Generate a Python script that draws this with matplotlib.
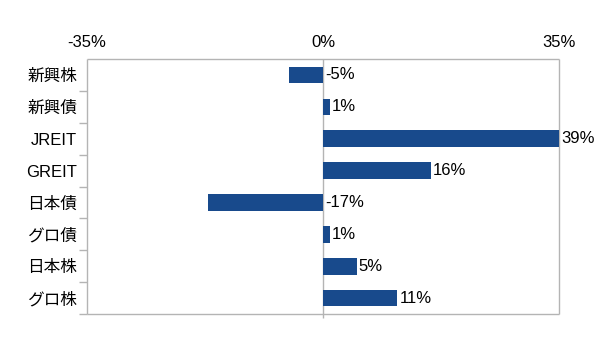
import numpy as np
import matplotlib
matplotlib.use("Agg")
import matplotlib.pyplot as plt

plt.rcParams['font.family'] = ['Liberation Sans', 'Noto Sans CJK JP', 'DejaVu Sans']

categories = ["新興株", "新興債", "JREIT", "GREIT", "日本債", "グロ債", "日本株", "グロ株"]
values = [-5, 1, 39, 16, -17, 1, 5, 11]
x_ticks = [-35, 0, 35]
x_labels = ["-35%", "0%", "35%"]

bar_color = "#184a8c"
line_color = "#b4b4b4"

fig = plt.figure(figsize=(6, 3.37), dpi=100)
ax = fig.add_axes([0.145, 0.068, 0.787, 0.757])

y = np.arange(len(categories))
ax.barh(y, values, height=0.52, color=bar_color, zorder=3)

ax.set_xlim(x_ticks[0], x_ticks[-1])
ax.set_ylim(len(categories) - 0.5, -0.5)

# value labels sit at the bar end, or at the zero line for negatives
for yi, v in zip(y, values):
    xpos = min(max(v, 0), x_ticks[-1])
    ax.text(xpos + 0.3, yi, f"{v}%", va="center", ha="left",
            fontsize=12, color="black", clip_on=False)

# gridline at zero (outer ones are the frame)
ax.axvline(0, color=line_color, lw=1, zorder=1)

# percent scale printed above the frame
ax.set_xticks([])
for xv, lab in zip(x_ticks, x_labels):
    ax.text(xv, 1.035, lab, transform=ax.get_xaxis_transform(), ha="center",
            va="bottom", fontsize=12)

ax.set_yticks(y)
ax.set_yticklabels(categories, fontsize=12)
ax.set_yticks(np.arange(len(categories)) + 0.5, minor=True)
ax.tick_params(axis="y", which="major", length=0, pad=7)
ax.tick_params(axis="y", which="minor", length=6, color=line_color, width=1)

# small tick below the zero line
ax.plot([0, 0], [len(categories) - 0.5, len(categories) - 0.38], color=line_color,
        lw=1, clip_on=False, solid_capstyle="butt")

for side in ["left", "right", "top", "bottom"]:
    ax.spines[side].set_color(line_color)
    ax.spines[side].set_linewidth(1)
    ax.spines[side].set_capstyle("butt")

fig.savefig("out.png", dpi=100)
